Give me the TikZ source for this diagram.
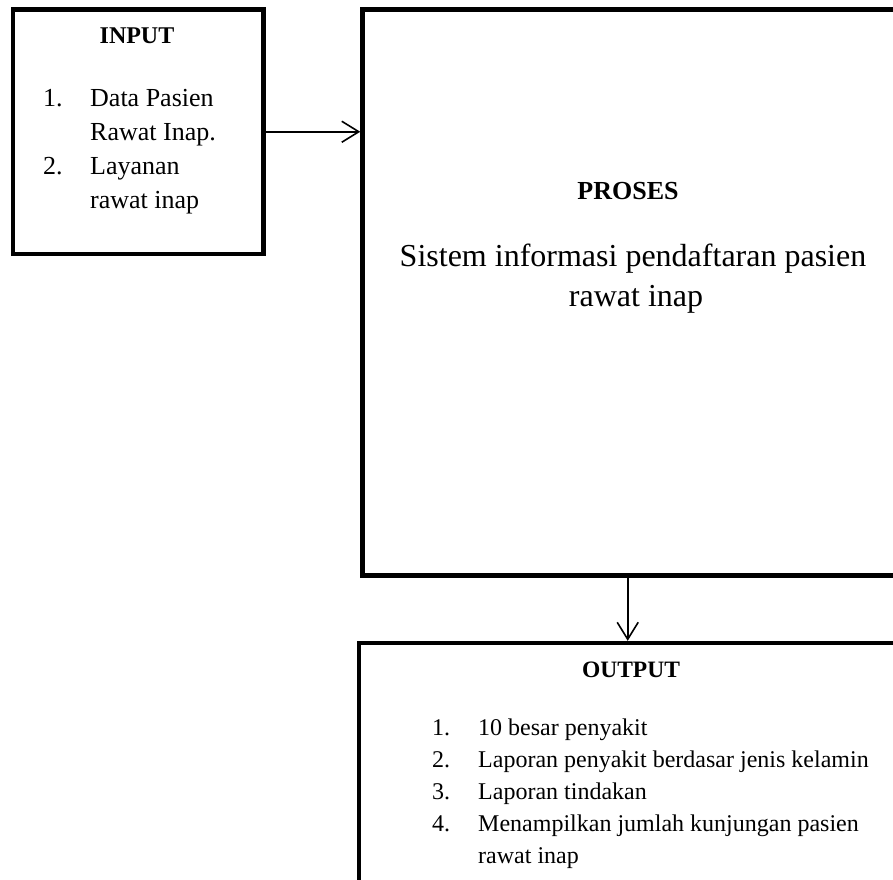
\documentclass[tikz,border=0pt]{standalone}
\usepackage{fontspec}
\setmainfont{Liberation Serif}
\usetikzlibrary{arrows.meta}
\begin{document}
\begin{tikzpicture}[x=1pt,y=-1pt,
  frame/.style={draw, rectangle, line width=4.5pt, outer sep=0pt, inner sep=0pt, anchor=north west},
  flow/.style={line width=1.6pt, shorten <=2.2pt, shorten >=2.2pt,
    -{Straight Barb[length=17pt,width=21pt,line width=1.6pt]}},
  title/.style={font=\fontsize{24}{28}\selectfont\bfseries, anchor=base, inner sep=0pt},
  initem/.style={font=\fontsize{26}{30}\selectfont, anchor=base west, inner sep=0pt},
  outitem/.style={font=\fontsize{24}{28}\selectfont, anchor=base west, inner sep=0pt},
  big/.style={font=\fontsize{32}{36}\selectfont, anchor=base, inner sep=0pt}]
\clip (0,0) rectangle (893,879);
\fill[white] (0,0) rectangle (893,879);

% boxes
\node[frame, minimum width=250.5pt, minimum height=244.5pt] (input) at (13,9.5) {};
\node[frame, minimum width=540pt, minimum height=566pt] (proses) at (362.5,9.5) {};
\node[frame, minimum width=545pt, minimum height=260pt] (output) at (359,643) {};

% input contents
\node[title] (inTitle) at (137,43.5) {INPUT};
\node[initem] (in1n) at (43,106) {1.};
\node[initem] (in1a) at (90,106) {Data Pasien};
\node[initem] (in1b) at (90,140) {Rawat Inap.};
\node[initem] (in2n) at (43,174) {2.};
\node[initem] (in2a) at (90,174) {Layanan};
\node[initem] (in2b) at (90,208) {rawat inap};

% process contents
\node[title, font=\fontsize{26}{30}\selectfont\bfseries] (prTitle) at (628,199) {PROSES};
\node[big] (prLine1) at (633,266) {Sistem informasi pendaftaran pasien};
\node[big] (prLine2) at (636,306) {rawat inap};

% output contents
\node[title, font=\fontsize{23.5}{28}\selectfont\bfseries] (outTitle) at (631,677) {OUTPUT};
\node[outitem] (o1n) at (432,735) {1.};
\node[outitem] (o1) at (478,735) {10 besar penyakit};
\node[outitem] (o2n) at (432,767) {2.};
\node[outitem] (o2) at (478,767) {Laporan penyakit berdasar jenis kelamin};
\node[outitem] (o3n) at (432,799) {3.};
\node[outitem] (o3) at (478,799) {Laporan tindakan};
\node[outitem] (o4n) at (432,831) {4.};
\node[outitem] (o4a) at (478,831) {Menampilkan jumlah kunjungan pasien};
\node[outitem] (o4b) at (478,863) {rawat inap};

% connectors
\coordinate (drop) at (627.7,0);
\draw[flow] (input.east) -- (input.east -| proses.west);
\draw[flow] (proses.south -| drop) -- (output.north -| drop);
\end{tikzpicture}
\end{document}
